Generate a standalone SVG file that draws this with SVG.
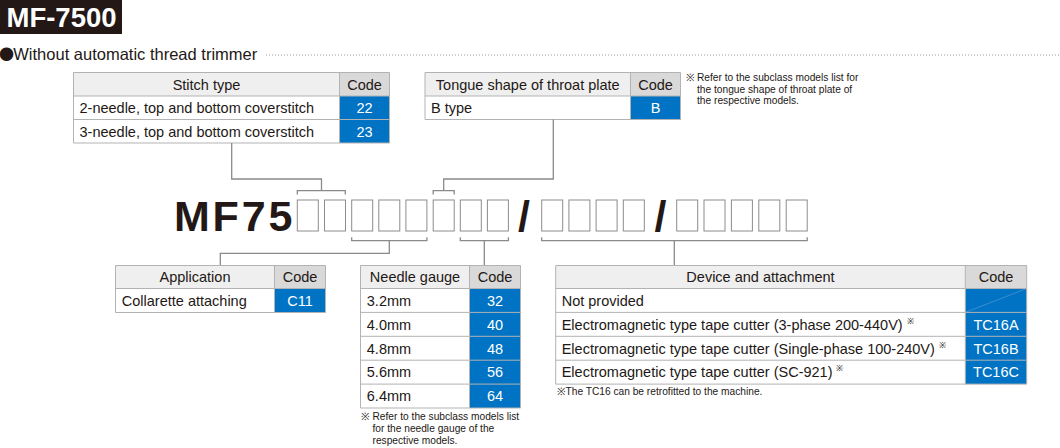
<svg xmlns="http://www.w3.org/2000/svg" width="1060" height="448" viewBox="0 0 1060 448">
<style>
text{font-family:"Liberation Sans",Arial,sans-serif;fill:#231815}
.t{font-size:14.5px}
.c{font-size:14.5px;fill:#fff;text-anchor:middle}
.m{text-anchor:middle}
.n{font-size:10.2px}
.sup{font-size:8.5px}
.hl{fill:#efefef}
.hc{fill:#d9d9d9}
.bl{fill:#0073c4}
.cell{fill:#fff}
.grid{stroke:#b3b3b3;stroke-width:1;fill:none}
.box{fill:#fff;stroke:#8c8c8c;stroke-width:1}
.con{stroke:#8a8a8a;stroke-width:1.3;fill:none}
</style>
<g id="title">
<rect x="0" y="0" width="122" height="34" fill="#231815"/>
<text x="6.5" y="27" style="font-size:27.5px;font-weight:bold;fill:#fff">MF-7500</text>
</g>
<g id="subtitle">
<text x="-1" y="60" style="font-size:16.5px"><tspan style="font-family:'Noto Sans CJK JP','DejaVu Sans',sans-serif;font-size:15px">●</tspan><tspan x="13.3">Without automatic thread trimmer</tspan></text>
<line x1="266" y1="55" x2="1060" y2="55" stroke="#9a9a9a" stroke-width="1" stroke-dasharray="1 2"/>
</g>
<g id="stitch-type">
<rect class="hl" x="73.5" y="72.5" width="266" height="23.5"/>
<rect class="hc" x="339.5" y="72.5" width="50" height="23.5"/>
<rect class="cell" x="73.5" y="96" width="266" height="47"/>
<rect class="bl" x="339.5" y="96" width="50" height="47"/>
<path class="grid" d="M73.5,72.5H389.5V143H73.5Z M73.5,96H389.5 M73.5,119.5H389.5 M339.5,72.5V143"/>
<text class="t m" x="206.5" y="89.5">Stitch type</text>
<text class="t m" x="364.5" y="89.5">Code</text>
<text class="t" x="79.5" y="113">2-needle, top and bottom coverstitch</text>
<text class="c" x="364.5" y="113">22</text>
<text class="t" x="79.5" y="136.5">3-needle, top and bottom coverstitch</text>
<text class="c" x="364.5" y="136.5">23</text>
</g>
<g id="tongue-shape">
<rect class="hl" x="425" y="72.5" width="205.5" height="23.5"/>
<rect class="hc" x="630.5" y="72.5" width="50" height="23.5"/>
<rect class="cell" x="425" y="96" width="205.5" height="23.5"/>
<rect class="bl" x="630.5" y="96" width="50" height="23.5"/>
<path class="grid" d="M425,72.5H680.5V119.5H425Z M425,96H680.5 M630.5,72.5V119.5"/>
<text class="t m" x="527.75" y="89.5">Tongue shape of throat plate</text>
<text class="t m" x="655.5" y="89.5">Code</text>
<text class="t" x="431" y="113">B type</text>
<text class="c" x="655.5" y="113">B</text>
<text class="n" x="686" y="81">※<tspan x="697">Refer to the subclass models list for</tspan></text>
<text class="n" x="697" y="92.5">the tongue shape of throat plate of</text>
<text class="n" x="697" y="104">the respective models.</text>
</g>
<g id="model-code">
<text x="174" y="231" style="font-size:43px;font-weight:bold;letter-spacing:2.8px">MF75</text>
<rect class="box" x="297.3" y="200" width="21" height="31"/>
<rect class="box" x="324.5" y="200" width="21" height="31"/>
<rect class="box" x="351.7" y="200" width="21" height="31"/>
<rect class="box" x="378.8" y="200" width="21" height="31"/>
<rect class="box" x="405.9" y="200" width="21" height="31"/>
<rect class="box" x="433.2" y="200" width="21" height="31"/>
<rect class="box" x="460.3" y="200" width="21" height="31"/>
<rect class="box" x="487.4" y="200" width="21" height="31"/>
<text x="518" y="231" style="font-size:43px;font-weight:bold">/</text>
<rect class="box" x="541.7" y="200" width="21" height="31"/>
<rect class="box" x="568.9" y="200" width="21" height="31"/>
<rect class="box" x="596.1" y="200" width="21" height="31"/>
<rect class="box" x="623.3" y="200" width="21" height="31"/>
<text x="654.5" y="231" style="font-size:43px;font-weight:bold">/</text>
<rect class="box" x="676.7" y="200" width="21" height="31"/>
<rect class="box" x="704" y="200" width="21" height="31"/>
<rect class="box" x="731.4" y="200" width="21" height="31"/>
<rect class="box" x="758.8" y="200" width="21" height="31"/>
<rect class="box" x="786.2" y="200" width="21" height="31"/>
</g>
<g id="connectors">
<path class="con" d="M297.3,194.5V190.7H345.3V194.5 M321.5,190.7V179H231.7V143"/>
<path class="con" d="M433.2,194.5V190.7H454.2V194.5 M443.7,190.7V179H553.3V119.5"/>
<path class="con" d="M351.7,237.2V240.7H426.9V237.2 M389.3,240.7V253.3H220.3V265.5"/>
<path class="con" d="M460.3,237.2V240.7H508.4V237.2 M484.3,240.7V265.5"/>
<path class="con" d="M541.7,237.2V240.7H807.2V237.2 M674.3,240.7V265.5"/>
</g>
<g id="application">
<rect class="hl" x="115.5" y="265.5" width="159" height="23"/>
<rect class="hc" x="274.5" y="265.5" width="51" height="23"/>
<rect class="cell" x="115.5" y="288.5" width="159" height="24"/>
<rect class="bl" x="274.5" y="288.5" width="51" height="24"/>
<path class="grid" d="M115.5,265.5H325.5V312.5H115.5Z M115.5,288.5H325.5 M274.5,265.5V312.5"/>
<text class="t m" x="195" y="282.3">Application</text>
<text class="t m" x="300" y="282.3">Code</text>
<text class="t" x="121.8" y="305.7">Collarette attaching</text>
<text class="c" x="300" y="305.7">C11</text>
</g>
<g id="needle-gauge">
<rect class="hl" x="360.5" y="265.5" width="109" height="23"/>
<rect class="hc" x="469.5" y="265.5" width="51" height="23"/>
<rect class="cell" x="360.5" y="288.5" width="109" height="119.5"/>
<rect class="bl" x="469.5" y="288.5" width="51" height="119.5"/>
<path class="grid" d="M360.5,265.5H520.5V408H360.5Z M360.5,288.5H520.5 M360.5,312.4H520.5 M360.5,336.3H520.5 M360.5,360.2H520.5 M360.5,384.1H520.5 M469.5,265.5V408"/>
<text class="t m" x="415" y="282.3">Needle gauge</text>
<text class="t m" x="495" y="282.3">Code</text>
<text class="t" x="366.8" y="305.7">3.2mm</text>
<text class="c" x="495" y="305.7">32</text>
<text class="t" x="366.8" y="329.6">4.0mm</text>
<text class="c" x="495" y="329.6">40</text>
<text class="t" x="366.8" y="353.5">4.8mm</text>
<text class="c" x="495" y="353.5">48</text>
<text class="t" x="366.8" y="377.4">5.6mm</text>
<text class="c" x="495" y="377.4">56</text>
<text class="t" x="366.8" y="401.3">6.4mm</text>
<text class="c" x="495" y="401.3">64</text>
<text class="n" x="361" y="420">※<tspan x="372.5">Refer to the subclass models list</tspan></text>
<text class="n" x="372.5" y="432">for the needle gauge of the</text>
<text class="n" x="372.5" y="444">respective models.</text>
</g>
<g id="device-attachment">
<rect class="hl" x="555.7" y="265.5" width="409.6" height="23"/>
<rect class="hc" x="965.3" y="265.5" width="61.4" height="23"/>
<rect class="cell" x="555.7" y="288.5" width="409.6" height="95.6"/>
<rect class="bl" x="965.3" y="288.5" width="61.4" height="95.6"/>
<line x1="965.3" y1="312.4" x2="1026.7" y2="288.5" stroke="#4d93d3" stroke-width="0.8"/>
<path class="grid" d="M555.7,265.5H1026.7V384.1H555.7Z M555.7,288.5H1026.7 M555.7,312.4H1026.7 M555.7,336.3H1026.7 M555.7,360.2H1026.7 M965.3,265.5V384.1"/>
<text class="t m" x="760.5" y="282.3">Device and attachment</text>
<text class="t m" x="996" y="282.3">Code</text>
<text class="t" x="561.7" y="305.7">Not provided</text>
<text class="t" x="561.7" y="329.6">Electromagnetic type tape cutter (3-phase 200-440V)<tspan class="sup" dx="4" dy="-6">※</tspan></text>
<text class="c" x="996" y="329.6">TC16A</text>
<text class="t" x="561.7" y="353.5">Electromagnetic type tape cutter (Single-phase 100-240V)<tspan class="sup" dx="4" dy="-6">※</tspan></text>
<text class="c" x="996" y="353.5">TC16B</text>
<text class="t" x="561.7" y="377.4">Electromagnetic type tape cutter (SC-921)<tspan class="sup" dx="4" dy="-6">※</tspan></text>
<text class="c" x="996" y="377.4">TC16C</text>
<text class="n" x="556.5" y="394.5">※The TC16 can be retrofitted to the machine.</text>
</g>
</svg>
